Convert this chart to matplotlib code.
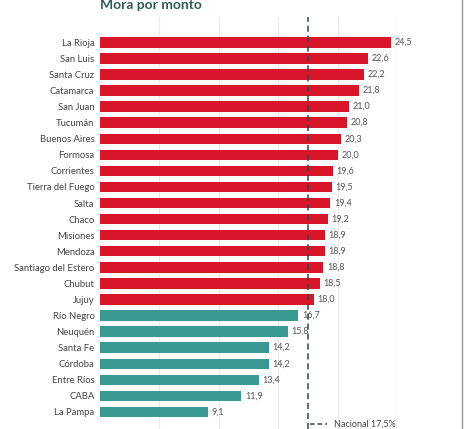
import matplotlib
matplotlib.use("Agg")
import matplotlib.pyplot as plt
from matplotlib.lines import Line2D

provincias = ["La Rioja", "San Luis", "Santa Cruz", "Catamarca", "San Juan", "Tucumán",
              "Buenos Aires", "Formosa", "Corrientes", "Tierra del Fuego", "Salta", "Chaco",
              "Misiones", "Mendoza", "Santiago del Estero", "Chubut", "Jujuy", "Río Negro",
              "Neuquén", "Santa Fe", "Córdoba", "Entre Ríos", "CABA", "La Pampa"]
mora = [24.5, 22.6, 22.2, 21.8, 21.0, 20.8, 20.3, 20.0, 19.6, 19.5, 19.4, 19.2,
        18.9, 18.9, 18.8, 18.5, 18.0, 16.7, 15.8, 14.2, 14.2, 13.4, 11.9, 9.1]
nacional = 17.5
ticks_x = [5, 10, 15, 20, 25]

RED = "#d9152a"
TEAL = "#3a9990"
TITLE = "#2f5e55"

plt.rcParams['font.family'] = ['Lato', 'DejaVu Sans']

W, H = 472, 429
fig = plt.figure(figsize=(W / 100, H / 100), dpi=100)
ax = fig.add_axes([100 / W, 0, (397 - 100) / W, (429 - 17) / H])

ypos = list(range(len(provincias)))
colors = [RED if v > nacional else TEAL for v in mora]
ax.barh(ypos, mora, height=0.65, color=colors, zorder=2)
ax.set_xlim(0, 25)
ax.set_ylim(24.06, -1.575)
ax.set_yticks(ypos)
ax.set_yticklabels(provincias, fontsize=6.8, color="#444444")
ax.tick_params(axis='y', length=0, pad=4)
ax.set_xticks(ticks_x)
ax.tick_params(axis='x', length=0, labelbottom=False)
ax.grid(axis='x', color="#ebebeb", linewidth=0.8, zorder=0)
ax.grid(axis='y', visible=False)
for s in ax.spines.values():
    s.set_visible(False)

for y, v in zip(ypos, mora):
    ax.text(v + 0.3, y, f"{v:.1f}".replace(".", ","), va='center', ha='left',
            fontsize=6.5, color="#555555", clip_on=False, zorder=3)

ax.axvline(nacional, color="#2f4a48", linestyle=(0, (4, 2.5)), linewidth=1.1, zorder=4)

fig.text(100 / W, 1 - 9 / H, "Mora por monto", fontsize=10, fontweight='bold',
         color=TITLE, ha='left', va='baseline')

fig.add_artist(Line2D([310 / W, 327 / W], [1 - 424 / H, 1 - 424 / H], color="#2f4a48",
                      linestyle=(0, (3, 2)), linewidth=1.1))
fig.text(334 / W, 1 - 424 / H, "Nacional 17,5%", fontsize=6.5, color="#444444",
         ha='left', va='center')

fig.add_artist(Line2D([462 / W, 462 / W], [0, 1], color="#999999", linewidth=1))

fig.savefig("out.png", dpi=100, facecolor="white")
